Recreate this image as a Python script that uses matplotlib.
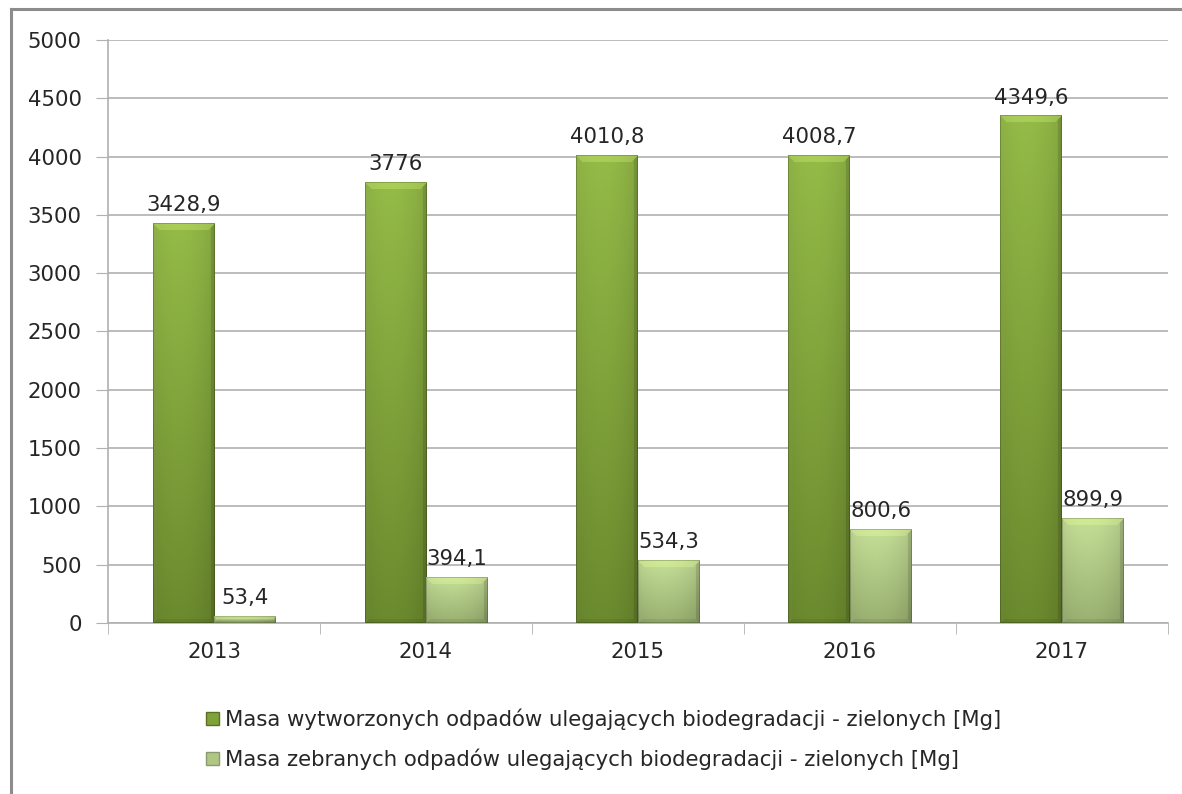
import numpy as np
import matplotlib
matplotlib.use('Agg')
import matplotlib.pyplot as plt
from matplotlib.patches import Patch
from matplotlib.lines import Line2D

years = ['2013', '2014', '2015', '2016', '2017']
generated = [3428.9, 3776.0, 4010.8, 4008.7, 4349.6]
collected = [53.4, 394.1, 534.3, 800.6, 899.9]
series_names = ['Masa wytworzonych odpadów ulegających biodegradacji - zielonych [Mg]',
                'Masa zebranych odpadów ulegających biodegradacji - zielonych [Mg]']

plt.rcParams['font.family'] = ['DejaVu Sans']
text_color = '#262626'
grid_color = '#b0b0b0'
fs = 15.3

# top / bottom colours of the two bar gradients
dark_top, dark_bottom = np.array([0.58, 0.73, 0.28]), np.array([0.42, 0.54, 0.18])
light_top, light_bottom = np.array([0.77, 0.87, 0.59]), np.array([0.60, 0.69, 0.44])


def bevel_image(nx, ny, top, bottom, b=4, bt=7):
    rows = np.linspace(0, 1, ny)[:, None, None]
    img = top * (1 - rows) + bottom * rows
    img = np.repeat(img, nx, axis=1)
    # slight horizontal shading
    xs = np.linspace(-1, 1, nx)
    shade = 1.0 - 0.08 * xs ** 2 - 0.03 * xs
    img = img * shade[None, :, None]
    ii, jj = np.mgrid[0:ny, 0:nx]
    dt, db = ii, ny - 1 - ii
    dl, dr = jj, nx - 1 - jj
    # top bevel is a trapezoid, wider than the side ones
    top_e = (dt < bt) & (dt <= dl) & (dt <= dr)
    side_min = np.minimum(np.minimum(dl, dr), db)
    edge = (side_min < b) & ~top_e
    left_e = edge & (dl == side_min)
    right_e = edge & (dr == side_min) & ~left_e
    bot_e = edge & (db == side_min) & ~left_e & ~right_e
    img[top_e] = img[top_e] * 0.8 + np.array([0.2, 0.22, 0.12])
    img[left_e] = img[left_e] * 0.95 + 0.03
    img[right_e] = img[right_e] * 0.88
    img[bot_e] = img[bot_e] * 0.93
    # thin darker outline
    outline = np.minimum(np.minimum(dt, db), np.minimum(dl, dr)) == 0
    img[outline] = img[outline] * 0.8
    return np.clip(img, 0, 1)


fig = plt.figure(figsize=(11.82, 7.94), dpi=100)
ax = fig.add_axes([0.0914, 0.2154, 0.8966, 0.7342])

x = np.arange(len(years))
w = 0.29
px_per_x = 1060 / 5
px_per_y = 583 / 5000

bars1 = ax.bar(x - w / 2, generated, w, color='none', zorder=3)
bars2 = ax.bar(x + w / 2, collected, w, color='none', zorder=3)

for bars, (top, bottom) in [(bars1, (dark_top, dark_bottom)), (bars2, (light_top, light_bottom))]:
    for bar in bars:
        x0, h, bw = bar.get_x(), bar.get_height(), bar.get_width()
        nx = int(round(bw * px_per_x))
        ny = max(3, int(round(h * px_per_y)))
        b = min(4, max(1, ny // 2))
        bt = min(7, max(1, ny // 2))
        img = bevel_image(nx, ny, top, bottom, b, bt)
        ax.imshow(img, extent=[x0, x0 + bw, 0, h], aspect='auto', zorder=3,
                  interpolation='bilinear')
        ax.annotate(('%g' % h).replace('.', ','), (x0 + bw / 2, h), xytext=(0, 6),
                    textcoords='offset points', ha='center', va='bottom',
                    fontsize=fs, color=text_color, zorder=5)

ax.set_xlim(-0.5, len(years) - 0.5)
ax.set_ylim(0, 5000)
ax.set_yticks(np.arange(0, 5001, 500))
ax.set_xticks(x)
ax.set_xticklabels(years)
ax.set_xticks(np.arange(-0.5, len(years), 1), minor=True)
ax.tick_params(axis='x', which='major', length=0, pad=14, labelsize=fs, colors=text_color)
ax.tick_params(axis='x', which='minor', length=8, color=grid_color, direction='out')
ax.tick_params(axis='y', length=9, color=grid_color, pad=10, labelsize=fs, colors=text_color)
ax.yaxis.grid(True, color=grid_color, linewidth=1.2, zorder=0)
ax.set_axisbelow(True)
for side in ['top', 'right']:
    ax.spines[side].set_visible(False)
ax.spines['left'].set_color(grid_color)
ax.spines['bottom'].set_color(grid_color)
ax.spines['left'].set_linewidth(1.2)
ax.spines['bottom'].set_linewidth(1.2)

handles = [Patch(facecolor=(dark_top + dark_bottom) / 2, edgecolor='#5a7222'),
           Patch(facecolor=(light_top + light_bottom) / 2, edgecolor='#8a9a70')]
fig.legend(handles, series_names, loc='center', bbox_to_anchor=(0.511, 0.069),
           frameon=False, fontsize=fs, handlelength=0.6, handleheight=0.6,
           handletextpad=0.3, labelspacing=0.85, labelcolor=text_color)

# outer chart frame
fig.add_artist(Line2D([11 / 1182, 11 / 1182], [0, 1 - 9 / 794], transform=fig.transFigure,
                      color='#8c8c8c', linewidth=2.2))
fig.add_artist(Line2D([11 / 1182, 1], [1 - 9 / 794, 1 - 9 / 794], transform=fig.transFigure,
                      color='#8c8c8c', linewidth=2.2))

fig.savefig('out.png', dpi=100)
